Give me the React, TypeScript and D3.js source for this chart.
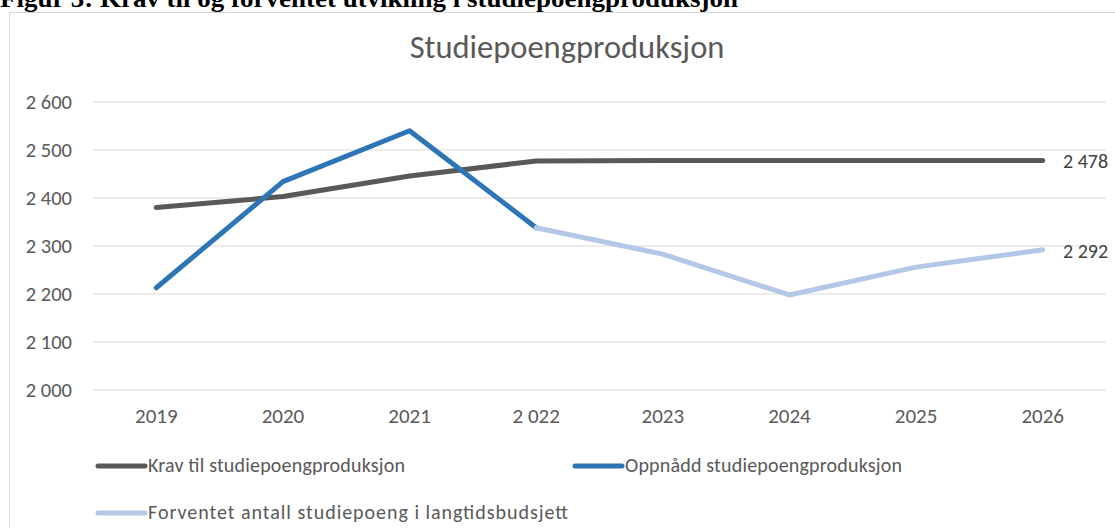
import React from "react";
import * as d3 from "d3";

const years = ["2019", "2020", "2021", "2 022", "2023", "2024", "2025", "2026"];
const krav = [2380, 2403, 2446, 2477, 2478, 2478, 2478, 2478];
const oppnadd = [2213, 2434, 2540, 2338, null, null, null, null];
const forventet = [null, null, null, 2338, 2283, 2198, 2256, 2292];
const yTicks = [2000, 2100, 2200, 2300, 2400, 2500, 2600];

const W = 1115;
const H = 528;
const fmt = (v: number) => d3.format(",")(v).replace(/,/g, " ");

export default function App() {
  const x = d3.scaleBand<string>().domain(years).range([93, 1106]);
  const cx = (i: number) => (x(years[i]) as number) + x.bandwidth() / 2;
  const y = d3.scaleLinear().domain([2000, 2600]).range([390, 102]);
  const line = d3
    .line<number | null>()
    .defined((d) => d != null)
    .x((_, i) => cx(i))
    .y((d) => y(d as number));
  const font = "Calibri, Carlito, 'Open Sans', sans-serif";
  const series = [
    { name: "Krav til studiepoengproduksjon", data: krav, color: "#595959" },
    { name: "Oppnådd studiepoengproduksjon", data: oppnadd, color: "#2E75B6" },
    { name: "Forventet antall studiepoeng i langtidsbudsjett", data: forventet, color: "#B4C7E7" },
  ];
  const legendPos = [
    { x: 98, y: 466, len: 257 },
    { x: 575, y: 466, len: 277 },
    { x: 98, y: 513, len: 420 },
  ];
  return (
    <svg
      width={W}
      height={H}
      style={{ position: "absolute", left: 0, top: 0, background: "#fff" }}
    >
      <rect x={9.5} y={12.5} width={W} height={H} fill="#fff" stroke="#d9d9d9" />
      <text
        x={0}
        y={7}
        fontFamily="'Liberation Serif', 'Times New Roman', serif"
        fontWeight="bold"
        fontSize={25}
        textLength={738}
        lengthAdjust="spacingAndGlyphs"
        fill="#000"
      >
        Figur 3: Krav til og forventet utvikling i studiepoengproduksjon
      </text>
      <text
        x={567}
        y={58}
        textAnchor="middle"
        fontFamily={font}
        fontSize={32.5}
        fill="#595959"
      >
        Studiepoengproduksjon
      </text>
      {yTicks.map((t) => (
        <g key={t}>
          <line x1={93} x2={1106} y1={y(t)} y2={y(t)} stroke="#d9d9d9" strokeWidth={1} />
          <text
            x={72}
            y={y(t) + 7}
            textAnchor="end"
            fontFamily={font}
            fontSize={20.5}
            fill="#595959"
          >
            {fmt(t)}
          </text>
        </g>
      ))}
      {years.map((yr, i) => (
        <text
          key={yr}
          x={cx(i)}
          y={423}
          textAnchor="middle"
          fontFamily={font}
          fontSize={21}
          fill="#595959"
        >
          {yr}
        </text>
      ))}
      {series.map((s) => (
        <path
          key={s.name}
          d={line(s.data) as string}
          fill="none"
          stroke={s.color}
          strokeWidth={5}
          strokeLinejoin="round"
          strokeLinecap="round"
        />
      ))}
      <text x={1063} y={y(krav[7]) + 7.5} fontFamily={font} fontSize={20} fill="#404040">
        {fmt(krav[7])}
      </text>
      <text x={1063} y={y(forventet[7] as number) + 8} fontFamily={font} fontSize={20} fill="#404040">
        {fmt(forventet[7] as number)}
      </text>
      {series.map((s, i) => (
        <g key={s.name}>
          <line
            x1={legendPos[i].x}
            x2={legendPos[i].x + 47}
            y1={legendPos[i].y}
            y2={legendPos[i].y}
            stroke={s.color}
            strokeWidth={5}
            strokeLinecap="round"
          />
          <text
            x={legendPos[i].x + 50}
            y={legendPos[i].y + 6}
            fontFamily={font}
            fontSize={20}
            textLength={legendPos[i].len}
            lengthAdjust="spacing"
            fill="#595959"
          >
            {s.name}
          </text>
        </g>
      ))}
    </svg>
  );
}
